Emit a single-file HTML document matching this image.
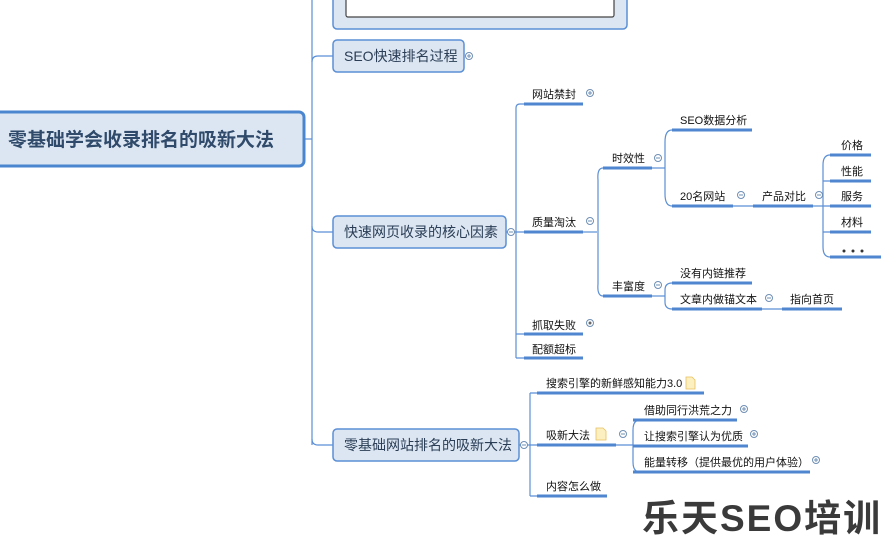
<!DOCTYPE html>
<html><head><meta charset="utf-8"><style>
html,body{margin:0;padding:0;background:#fff;width:896px;height:540px;overflow:hidden}
svg{display:block}
text{font-family:"Liberation Sans","Noto Sans CJK SC",sans-serif;fill:#111;font-size:11px}
.b{font-size:14px;fill:#2a3d55}
</style></head><body>
<svg width="896" height="540" viewBox="0 0 896 540">
<g fill="none" stroke="#5b8fd6" stroke-width="1.2">
<path d="M312 0 V445"/>
<path d="M304 139 H312"/>
<path d="M312 62 Q312 56 318 56 H333"/>
<path d="M312 226 Q312 232 318 232 H333"/>
<path d="M312 439 Q312 445 318 445 H333"/>
<path d="M506 232 H516"/>
<path d="M516 358 V108 Q516 104 520 104 H524"/>
<path d="M516 232 H524 M516 334 H524 M516 358 H524"/>
<path d="M583 232 H597"/>
<path d="M603 168 Q597 168 598 180 L598 284 Q597 296 603 296"/>
<path d="M652 168 H665"/>
<path d="M672 130 Q665 130 665 142 V194 Q665 206 672 206"/>
<path d="M733 206 H753"/>
<path d="M813 206 H823"/>
<path d="M830 155 Q823 155 823 165 V247 Q823 257 830 257"/>
<path d="M823 181 H830 M823 232 H830 M823 206 H830"/>
<path d="M652 296 H665"/>
<path d="M672 283 Q665 283 665 290 V302 Q665 309 672 309"/>
<path d="M762 309 H782"/>
<path d="M519 445 H530"/>
<path d="M530 393 V496"/>
<path d="M530 393 H537 M530 445 H537 M530 496 H537"/>
<path d="M616 445 H633"/>
<path d="M640 420 Q633 420 633 430 V462 Q633 472 640 472"/>
</g>
<g stroke="#4f86cf" stroke-width="3">
<path d="M524 104 H583 M524 232 H583 M524 334 H583 M524 358 H583"/>
<path d="M603 168 H652 M603 296 H652"/>
<path d="M672 130 H752 M672 206 H733 M753 206 H813"/>
<path d="M830 155 H871 M830 181 H871 M830 206 H871 M830 232 H871 M830 257 H881"/>
<path d="M672 283 H752 M672 309 H762 M782 309 H842"/>
<path d="M537 393 H704 M537 445 H616 M537 496 H607"/>
<path d="M633 420 H737 M633 446 H748 M633 472 H810"/>
</g>
<rect x="333" y="-20" width="294" height="49" rx="4" fill="#dce6f2" stroke="#5b8fd6" stroke-width="1.5"/>
<rect x="346" y="-20" width="268" height="37" rx="2" fill="#fff" stroke="#444" stroke-width="1.2"/>
<rect x="-10" y="112" width="314" height="54" rx="5" fill="#dce6f2" stroke="#4a86d0" stroke-width="3"/>
<text x="8" y="146" style="font-size:19px;font-weight:bold;fill:#2f4a6b">零基础学会收录排名的吸新大法</text>
<rect x="333" y="40" width="131" height="32" rx="4" fill="#dce6f2" stroke="#5b8fd6" stroke-width="1.5"/>
<text class="b" x="344" y="61">SEO快速排名过程</text>
<rect x="333" y="216" width="173" height="32" rx="4" fill="#dce6f2" stroke="#5b8fd6" stroke-width="1.5"/>
<text class="b" x="344" y="237">快速网页收录的核心因素</text>
<rect x="333" y="429" width="186" height="32" rx="4" fill="#dce6f2" stroke="#5b8fd6" stroke-width="1.5"/>
<text class="b" x="344" y="450">零基础网站排名的吸新大法</text>
<g fill="#fff" stroke="#6f8fb5" stroke-width="1">
<circle cx="469" cy="56" r="3.5"/><circle cx="511" cy="232" r="3.5"/><circle cx="524" cy="445" r="3.5"/>
<circle cx="590" cy="93" r="3.5"/><circle cx="590" cy="221" r="3.5"/><circle cx="590" cy="323" r="3.5"/>
<circle cx="658" cy="158" r="3.5"/><circle cx="658" cy="285" r="3.5"/>
<circle cx="741" cy="195" r="3.5"/><circle cx="819" cy="195" r="3.5"/><circle cx="769" cy="298" r="3.5"/>
<circle cx="623" cy="434" r="3.5"/><circle cx="744" cy="409" r="3.5"/><circle cx="754" cy="434" r="3.5"/><circle cx="816" cy="460" r="3.5"/>
</g>
<g stroke="#6f8fb5" stroke-width="1">
<path d="M467 56h4M469 54v4M588 93h4M590 91v4M742 409h4M744 407v4M752 434h4M754 432v4M814 460h4M816 458v4"/>
<path d="M509 232h4M588 221h4M656 158h4M656 285h4M739 195h4M817 195h4M767 298h4M621 434h4M522 445h4"/>
</g>
<circle cx="590" cy="323" r="1.5" fill="#666"/>
<text x="532" y="98">网站禁封</text>
<text x="532" y="226">质量淘汰</text>
<text x="532" y="329">抓取失败</text>
<text x="532" y="353">配额超标</text>
<text x="612" y="162">时效性</text>
<text x="612" y="290">丰富度</text>
<text x="680" y="124">SEO数据分析</text>
<text x="680" y="200">20名网站</text>
<text x="762" y="200">产品对比</text>
<text x="841" y="149">价格</text>
<text x="841" y="175">性能</text>
<text x="841" y="200">服务</text>
<text x="841" y="226">材料</text>
<g fill="#333"><circle cx="844" cy="251" r="1.5"/><circle cx="853" cy="251" r="1.5"/><circle cx="862" cy="251" r="1.5"/></g>
<text x="680" y="277">没有内链推荐</text>
<text x="680" y="303">文章内做锚文本</text>
<text x="790" y="303">指向首页</text>
<text x="546" y="387">搜索引擎的新鲜感知能力3.0</text>
<text x="546" y="439">吸新大法</text>
<text x="546" y="490">内容怎么做</text>
<text x="644" y="414">借助同行洪荒之力</text>
<text x="644" y="440">让搜索引擎认为优质</text>
<text x="644" y="466">能量转移（提供最优的用户体验）</text>
<g fill="#fdf0c0" stroke="#e8c060" stroke-width="0.8">
<path d="M686 377h6l3 3v9h-9z"/><path d="M596 428h7l3 3v9h-10z"/>
</g>
<text x="642" y="531" style="font-size:37px;font-weight:bold;fill:#3a3a3a;letter-spacing:2px">乐天SEO培训</text>
</svg>
</body></html>
